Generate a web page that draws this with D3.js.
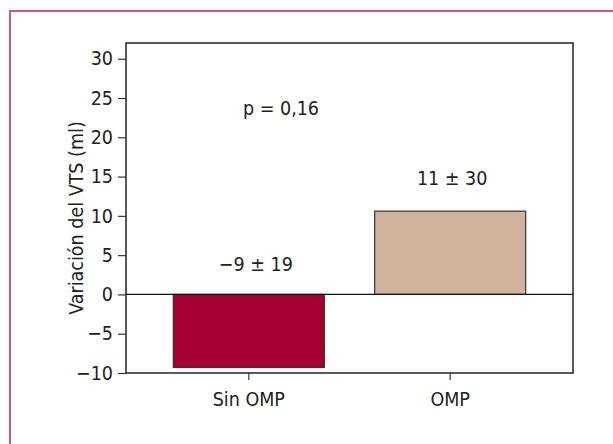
<!DOCTYPE html>
<html>
<head>
<meta charset="utf-8">
<script src="https://cdn.jsdelivr.net/npm/d3@7"></script>
<style>
body{margin:0;background:#fff;}
text{font-family:"DejaVu Sans Condensed","Liberation Sans Narrow",sans-serif;fill:#222;}
</style>
</head>
<body>
<div id="chart"></div>
<script>
// data
var categories = ["Sin OMP", "OMP"];
var values = [-9.3, 10.6];
var barLabels = ["\u22129 \u00b1 19", "11 \u00b1 30"];
var barColors = ["#a60032", "#d1b29d"];
var yTicks = [-10, -5, 0, 5, 10, 15, 20, 25, 30];
var pLabel = "p = 0,16";
var yTitle = "Variaci\u00f3n del VTS (ml)";

var W = 613, H = 444;
var margin = {left:126, right:40, top:43, bottom:71};
var fs = "19.5px";

var svg = d3.select("#chart").append("svg")
    .attr("width", W)
    .attr("height", H);

// pink frame around the figure
svg.append("path")
    .attr("d", "M10,444 L10,11 L613,11")
    .style("fill", "none")
    .style("stroke", "#d2577c")
    .style("stroke-width", "2px");

var x = d3.scaleBand()
    .domain(categories)
    .range([margin.left, W - margin.right])
    .paddingInner(0.25)
    .paddingOuter(0.235);

var y = d3.scaleLinear()
    .domain([-10, 32])
    .range([H - margin.bottom, margin.top]);

// bars
svg.selectAll("rect.bar")
    .data(values)
    .enter()
    .append("rect")
    .attr("class", "bar")
    .attr("x", function(d, i){ return x(categories[i]); })
    .attr("width", x.bandwidth())
    .attr("y", function(d){ return y(Math.max(0, d)); })
    .attr("height", function(d){ return Math.abs(y(d) - y(0)); })
    .style("fill", function(d, i){ return barColors[i]; })
    .style("stroke", "#333")
    .style("stroke-width", "1.2px");

// zero line
svg.append("line")
    .attr("x1", margin.left)
    .attr("x2", W - margin.right)
    .attr("y1", y(0))
    .attr("y2", y(0))
    .style("stroke", "#111")
    .style("stroke-width", "1.2px");

// plot box
svg.append("rect")
    .attr("x", margin.left)
    .attr("y", margin.top)
    .attr("width", W - margin.right - margin.left)
    .attr("height", H - margin.bottom - margin.top)
    .style("fill", "none")
    .style("stroke", "#222")
    .style("stroke-width", "1.5px");

var yAxis = svg.append("g")
    .attr("transform", "translate(" + margin.left + ",0)")
    .call(d3.axisLeft(y).tickValues(yTicks).tickSize(8).tickPadding(5)
        .tickFormat(function(d){ return d < 0 ? "\u2212" + Math.abs(d) : d; }));

var xAxis = svg.append("g")
    .attr("transform", "translate(0," + (H - margin.bottom) + ")")
    .call(d3.axisBottom(x).tickSize(7).tickPadding(12));

[yAxis, xAxis].forEach(function(g){
    g.select(".domain").remove();
    g.selectAll(".tick line").style("stroke", "#333").style("stroke-width", "1.2px");
    g.selectAll(".tick text").style("font-size", fs).style("fill", "#222");
});

// labels above the bars
svg.selectAll("text.barlab")
    .data(barLabels)
    .enter()
    .append("text")
    .attr("class", "barlab")
    .attr("x", function(d, i){ return x(categories[i]) + x.bandwidth() / 2 + (i == 0 ? 7 : 2); })
    .attr("y", function(d, i){ return i == 0 ? y(3) : y(13.9); })
    .attr("text-anchor", "middle")
    .style("font-size", fs)
    .text(function(d){ return d; });

svg.append("text")
    .attr("x", 281)
    .attr("y", y(22.85))
    .attr("text-anchor", "middle")
    .style("font-size", fs)
    .text(pLabel);

svg.append("text")
    .attr("transform", "translate(83,218) rotate(-90)")
    .attr("text-anchor", "middle")
    .style("font-size", fs)
    .text(yTitle);
</script>
</body>
</html>
